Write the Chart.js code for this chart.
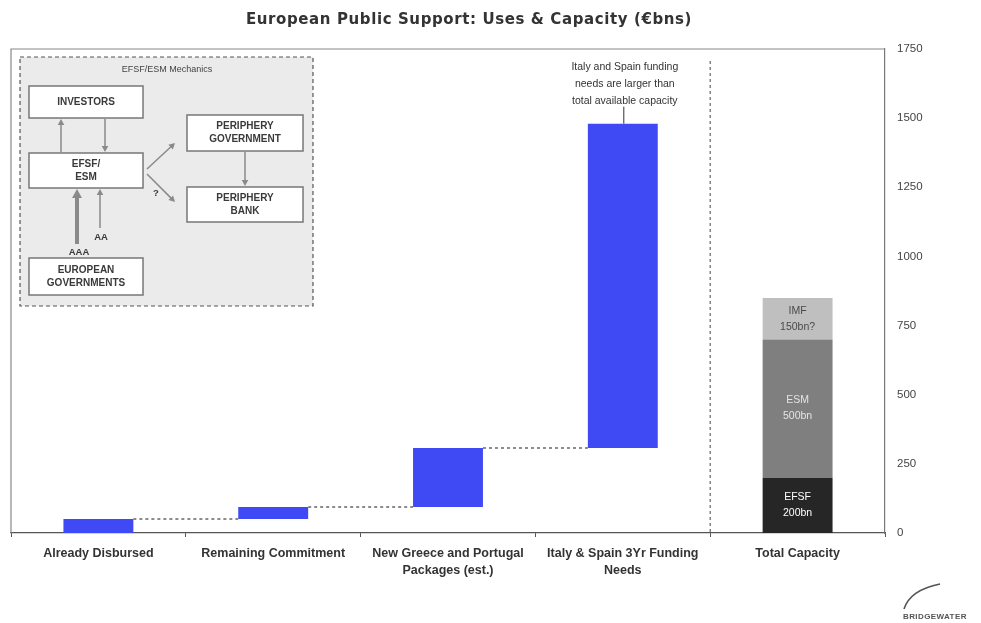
<!DOCTYPE html>
<html>
<head>
<meta charset="utf-8">
<title>European Public Support: Uses &amp; Capacity</title>
<script src="https://cdn.jsdelivr.net/npm/chart.js@4.4.1/dist/chart.umd.min.js"></script>
<style>
  html, body { margin: 0; padding: 0; background: #fff; }
  #wrap { width: 981px; height: 623px; }
</style>
</head>
<body>
<div id="wrap"><canvas id="chart" width="981" height="623"></canvas></div>
<script>
// categories along the bottom
const categories = [
  'Already Disbursed',
  'Remaining Commitment',
  ['New Greece and Portugal', 'Packages (est.)'],
  ['Italy & Spain 3Yr Funding', 'Needs'],
  'Total Capacity'
];

// uses of funds (€bn) - each step sits on top of the previous one
const usesValues = [51, 43, 213, 1173];

// available capacity (€bn), stacked in the last column
const capacityNames = ['EFSF', 'ESM', 'IMF'];
const capacityValues = [200, 500, 150];
const capacityText = ['200bn', '500bn', '150bn?'];

const yTicks = [0, 250, 500, 750, 1000, 1250, 1500, 1750];

const titleText = 'European Public Support: Uses & Capacity (€bns)';
const noteLines = ['Italy and Spain funding', 'needs are larger than', 'total available capacity'];

const BLUE = '#3f4af4';
const capacityColors = ['#262626', '#7f7f7f', '#bfbfbf'];
const capacityTextColors = ['#ffffff', '#e4e4e4', '#4a4a4a'];

// floating ranges for the waterfall
const usesRanges = [];
let level = 0;
usesValues.forEach(v => { usesRanges.push([level, level + v]); level += v; });
usesRanges.push(null);

const capacityDatasets = [];
let base = 0;
capacityValues.forEach((v, i) => {
  const data = categories.map(() => null);
  data[categories.length - 1] = [base, base + v];
  base += v;
  capacityDatasets.push({
    label: capacityNames[i],
    data: data,
    backgroundColor: capacityColors[i],
    grouped: false,
    barPercentage: 0.8,
    categoryPercentage: 0.5
  });
});

function arrow(ctx, x1, y1, x2, y2, w, head) {
  const a = Math.atan2(y2 - y1, x2 - x1);
  const c = Math.cos(a), s = Math.sin(a);
  ctx.lineWidth = w;
  ctx.beginPath();
  ctx.moveTo(x1, y1);
  ctx.lineTo(x2 - c * head * 0.8, y2 - s * head * 0.8);
  ctx.stroke();
  ctx.beginPath();
  ctx.moveTo(x2, y2);
  ctx.lineTo(x2 - head * c + head * 0.55 * s, y2 - head * s - head * 0.55 * c);
  ctx.lineTo(x2 - head * c - head * 0.55 * s, y2 - head * s + head * 0.55 * c);
  ctx.closePath();
  ctx.fill();
}

function box(ctx, x, y, w, h, lines) {
  ctx.fillStyle = '#ffffff';
  ctx.fillRect(x, y, w, h);
  ctx.strokeStyle = '#777';
  ctx.lineWidth = 1.5;
  ctx.strokeRect(x, y, w, h);
  ctx.fillStyle = '#3a3a3a';
  ctx.font = 'bold 10px "Liberation Sans", Arial, sans-serif';
  ctx.textAlign = 'center';
  ctx.textBaseline = 'middle';
  const cy = y + h / 2;
  lines.forEach((t, i) => {
    ctx.fillText(t, x + w / 2, cy + (i - (lines.length - 1) / 2) * 13);
  });
}

// inset diagram, waterfall connectors, labels and annotation
const extras = {
  id: 'extras',
  beforeDatasetsDraw(chart) {
    const {ctx, chartArea: a} = chart;
    ctx.save();
    ctx.strokeStyle = '#888';
    ctx.lineWidth = 1.2;
    ctx.beginPath();
    ctx.moveTo(a.left, a.bottom);
    ctx.lineTo(a.left, a.top);
    ctx.lineTo(a.right, a.top);
    ctx.stroke();
    ctx.restore();
  },
  afterDraw(chart) {
    const {ctx, chartArea: a, scales: {x}} = chart;
    ctx.save();

    // title
    ctx.fillStyle = '#333';
    ctx.font = 'bold 15px "DejaVu Sans", Verdana, sans-serif';
    ctx.letterSpacing = '0.6px';
    ctx.textAlign = 'center';
    ctx.textBaseline = 'middle';
    ctx.fillText(titleText, 469, 20);
    ctx.letterSpacing = '0px';

    // dotted connectors between waterfall steps
    const uses = chart.getDatasetMeta(0).data;
    ctx.strokeStyle = '#666';
    ctx.lineWidth = 1.5;
    ctx.setLineDash([3, 3]);
    for (let i = 0; i < usesValues.length - 1; i++) {
      const b = uses[i], n = uses[i + 1];
      ctx.beginPath();
      ctx.moveTo(b.x + b.width / 2, b.y);
      ctx.lineTo(n.x - n.width / 2, b.y);
      ctx.stroke();
    }

    // separator before total capacity
    const sx = (x.getPixelForValue(3) + x.getPixelForValue(4)) / 2;
    ctx.lineWidth = 1.2;
    ctx.setLineDash([3, 3]);
    ctx.beginPath();
    ctx.moveTo(sx, a.top + 12);
    ctx.lineTo(sx, a.bottom);
    ctx.stroke();
    ctx.setLineDash([]);

    // annotation above Italy & Spain
    const big = uses[usesValues.length - 1];
    ctx.fillStyle = '#333';
    ctx.font = '10.5px "Liberation Sans", Arial, sans-serif';
    ctx.textAlign = 'center';
    ctx.textBaseline = 'middle';
    noteLines.forEach((t, i) => ctx.fillText(t, big.x + 2, big.y - 57 + i * 17));
    ctx.strokeStyle = '#333';
    ctx.lineWidth = 1;
    ctx.beginPath();
    ctx.moveTo(big.x + 1, big.y - 17);
    ctx.lineTo(big.x + 1, big.y);
    ctx.stroke();

    // labels inside the capacity stack
    ctx.font = '10.5px "Liberation Sans", Arial, sans-serif';
    capacityNames.forEach((name, i) => {
      const bar = chart.getDatasetMeta(i + 1).data[categories.length - 1];
      const cy = (bar.y + bar.base) / 2;
      ctx.fillStyle = capacityTextColors[i];
      ctx.fillText(name, bar.x, cy - 8);
      ctx.fillText(capacityText[i], bar.x, cy + 8);
    });

    // EFSF/ESM mechanics inset
    ctx.fillStyle = '#ebebeb';
    ctx.fillRect(20, 57, 293, 249);
    ctx.strokeStyle = '#555';
    ctx.lineWidth = 1.2;
    ctx.setLineDash([4, 3]);
    ctx.strokeRect(20, 57, 293, 249);
    ctx.setLineDash([]);
    ctx.fillStyle = '#444';
    ctx.font = '9px "Liberation Sans", Arial, sans-serif';
    ctx.fillText('EFSF/ESM Mechanics', 167, 70);

    box(ctx, 29, 86, 114, 32, ['INVESTORS']);
    box(ctx, 29, 153, 114, 35, ['EFSF/', 'ESM']);
    box(ctx, 29, 258, 114, 37, ['EUROPEAN', 'GOVERNMENTS']);
    box(ctx, 187, 115, 116, 36, ['PERIPHERY', 'GOVERNMENT']);
    box(ctx, 187, 187, 116, 35, ['PERIPHERY', 'BANK']);

    ctx.strokeStyle = '#8a8a8a';
    ctx.fillStyle = '#8a8a8a';
    arrow(ctx, 61, 152, 61, 119, 1.5, 6);
    arrow(ctx, 105, 119, 105, 152, 1.5, 6);
    arrow(ctx, 77, 244, 77, 189, 4, 9);
    arrow(ctx, 100, 228, 100, 189, 1.5, 6);
    arrow(ctx, 147, 169, 175, 143, 1.5, 6);
    arrow(ctx, 147, 174, 175, 202, 1.5, 6);
    arrow(ctx, 245, 152, 245, 186, 1.5, 6);

    ctx.fillStyle = '#3a3a3a';
    ctx.font = 'bold 9.5px "Liberation Sans", Arial, sans-serif';
    ctx.fillText('AAA', 79, 252);
    ctx.fillText('AA', 101, 237);
    ctx.fillText('?', 156, 193);

    // logo
    ctx.strokeStyle = '#555';
    ctx.lineWidth = 1.6;
    ctx.beginPath();
    ctx.moveTo(904, 609);
    ctx.quadraticCurveTo(910, 590, 940, 584);
    ctx.stroke();
    ctx.fillStyle = '#555';
    ctx.font = 'bold 8px "Liberation Sans", Arial, sans-serif';
    ctx.letterSpacing = '0.4px';
    ctx.textAlign = 'left';
    ctx.fillText('BRIDGEWATER', 903, 617);

    ctx.restore();
  }
};

new Chart(document.getElementById('chart'), {
  type: 'bar',
  data: {
    labels: categories,
    datasets: [{
      label: 'Uses',
      data: usesRanges,
      backgroundColor: BLUE,
      grouped: false,
      barPercentage: 0.8,
      categoryPercentage: 0.5
    }].concat(capacityDatasets)
  },
  options: {
    responsive: false,
    animation: false,
    layout: { padding: { top: 49, left: 11, right: 0, bottom: 0 } },
    plugins: {
      legend: { display: false },
      tooltip: { enabled: false }
    },
    scales: {
      x: {
        grid: { display: true, drawOnChartArea: false, drawTicks: true, tickLength: 4, color: '#555', offset: true },
        border: { display: true, color: '#555', width: 1.2 },
        ticks: {
          color: '#333',
          font: { family: '"Liberation Sans", Arial, sans-serif', size: 12.5, weight: 'bold', lineHeight: 1.35 },
          padding: 8,
          autoSkip: false,
          maxRotation: 0
        },
        afterFit(scale) { scale.height = 90; }
      },
      y: {
        position: 'right',
        min: yTicks[0],
        max: yTicks[yTicks.length - 1],
        grid: { display: false, drawTicks: false },
        border: { display: true, color: '#777', width: 1.2 },
        ticks: {
          color: '#444',
          padding: 12,
          font: { family: '"Liberation Sans", Arial, sans-serif', size: 11.5 },
          callback: v => String(v)
        },
        afterBuildTicks(scale) { scale.ticks = yTicks.map(v => ({ value: v })); },
        afterFit(scale) { scale.width = 96; }
      }
    }
  },
  plugins: [extras]
});
</script>
</body>
</html>
